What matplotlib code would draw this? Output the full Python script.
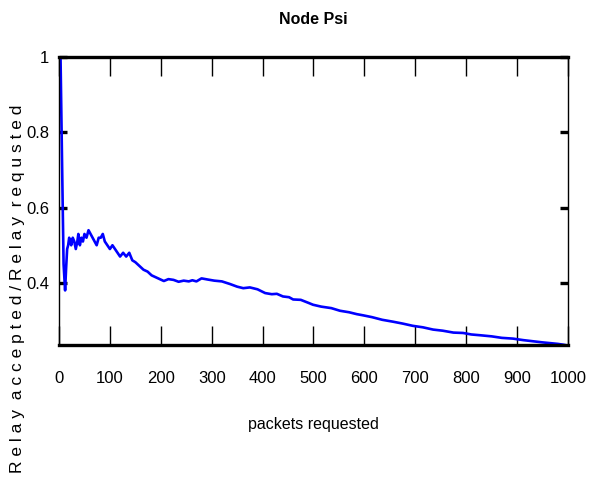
import matplotlib.pyplot as plt

# -----------------------------
# DATA
# -----------------------------
packets = [1, 3, 6, 9, 12, 14, 16, 18, 20, 22, 24, 27, 30, 33, 36, 38, 41, 44, 47, 50,
           54, 58, 62, 66, 70, 74, 78, 82, 86, 90, 95, 100, 105, 110, 115, 120, 126,
           132, 138, 144, 150, 158, 166, 174, 182, 190, 198, 206, 215, 225, 235, 245,
           255, 262, 270, 280, 292, 305, 320, 336, 350, 362, 375, 390, 405, 418, 428,
           440, 452, 460, 475, 490, 499, 515, 535, 552, 570, 585, 597, 615, 635, 656,
           675, 695, 715, 735, 754, 775, 794, 810, 827, 850, 870, 892, 912, 931, 950,
           965, 980, 990, 998]
ratio = [1.0, 1.0, 0.72, 0.45, 0.38, 0.44, 0.49, 0.50, 0.52, 0.51, 0.50, 0.52, 0.51,
         0.49, 0.51, 0.53, 0.50, 0.52, 0.51, 0.53, 0.52, 0.54, 0.53, 0.52, 0.51, 0.50,
         0.52, 0.52, 0.53, 0.51, 0.50, 0.49, 0.50, 0.49, 0.48, 0.47, 0.48, 0.47,
         0.48, 0.46, 0.455, 0.445, 0.435, 0.43, 0.42, 0.415, 0.41, 0.405, 0.41,
         0.408, 0.403, 0.406, 0.404, 0.407, 0.404, 0.412, 0.409, 0.406, 0.404, 0.397,
         0.39, 0.386, 0.388, 0.383, 0.373, 0.37, 0.371, 0.364, 0.362, 0.356, 0.355,
         0.347, 0.342, 0.337, 0.333, 0.326, 0.322, 0.317, 0.314, 0.309, 0.302, 0.297,
         0.292, 0.286, 0.282, 0.276, 0.273, 0.268, 0.267, 0.263, 0.261, 0.258, 0.254,
         0.252, 0.248, 0.245, 0.242, 0.240, 0.238, 0.236, 0.234]

xticks = list(range(0, 1001, 100))
yticks = [0.4, 0.6, 0.8, 1.0]
ytick_labels = ["0.4", "0.6", "0.8", "1"]

plt.rcParams['font.family'] = ['Liberation Sans', 'DejaVu Sans']

# -----------------------------
# PLOT
# -----------------------------
fig = plt.figure(figsize=(5.9, 4.82), dpi=100)
ax = fig.add_axes([0.1, 0.2842, 0.8627, 0.5975])

ax.plot(packets, ratio, color="#0000ff", linewidth=1.9)

ax.set_xlim(0, 1000)
ax.set_ylim(0.235, 1.0)

for side in ["top", "bottom"]:
    ax.spines[side].set_linewidth(2.4)
for side in ["left", "right"]:
    ax.spines[side].set_linewidth(1.0)

ax.set_xticks(xticks)
ax.set_xticklabels([str(t) for t in xticks], fontsize=12)
ax.tick_params(axis="x", direction="in", length=14, width=1.0, pad=19,
               top=True, bottom=True)
ax.set_yticks(yticks)
ax.set_yticklabels(ytick_labels, fontsize=12)
ax.tick_params(axis="y", direction="in", length=6, width=2.4, pad=7,
               left=True, right=True)

ax.set_title("Node Psi", fontweight="bold", fontsize=11.5, pad=24)
ax.set_xlabel("packets requested", fontsize=11.5, labelpad=22)
fig.text(0.03, 0.4, "R e l a y  a c c e p t e d / R e l a y  r e q u s t e d",
         rotation=90, fontsize=12.5, va="center", ha="center")

fig.savefig("out.png", dpi=100)
